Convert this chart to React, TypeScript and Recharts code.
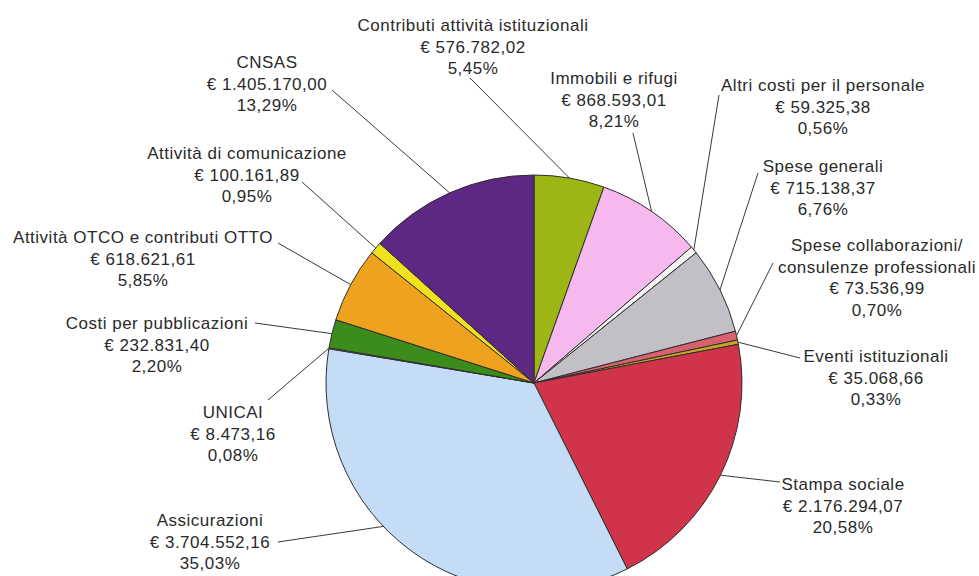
import React from 'react';
import { PieChart, Pie, Cell } from 'recharts';

// Voci di costo, in senso orario a partire dall'alto
const categories = [
  'Contributi attività istituzionali',
  'Immobili e rifugi',
  'Altri costi per il personale',
  'Spese generali',
  'Spese collaborazioni/\nconsulenze professionali',
  'Eventi istituzionali',
  'Stampa sociale',
  'Assicurazioni',
  'UNICAI',
  'Costi per pubblicazioni',
  'Attività OTCO e contributi OTTO',
  'Attività di comunicazione',
  'CNSAS',
];

const amounts = [
  576782.02, 868593.01, 59325.38, 715138.37, 73536.99, 35068.66, 2176294.07,
  3704552.16, 8473.16, 232831.4, 618621.61, 100161.89, 1405170.0,
];

const percents = [
  '5,45%', '8,21%', '0,56%', '6,76%', '0,70%', '0,33%', '20,58%',
  '35,03%', '0,08%', '2,20%', '5,85%', '0,95%', '13,29%',
];

const colors = [
  '#9db515', '#f5b9ee', '#f4f4f4', '#c3bfc6', '#d8606f', '#c9a526', '#d0344a',
  '#c4dcf6', '#e6e6e6', '#3c8c1c', '#eea21e', '#efe11e', '#5c2883',
];

// Etichette: centro testo (tx, ty prima riga), fine linea guida (lx, ly), spostamento angolare dell'attacco (shift)
const labelLayout = [
  { tx: 473, ty: 25, lx: 470, ly: 78, shift: 0 },
  { tx: 614, ty: 78, lx: 633, ly: 133, shift: 0 },
  { tx: 823, ty: 85, lx: 719, ly: 95, shift: 0 },
  { tx: 823, ty: 166, lx: 758, ly: 173, shift: 0 },
  { tx: 877, ty: 245, lx: 773, ly: 263, shift: 0 },
  { tx: 876, ty: 356, lx: 800, ly: 358, shift: 0 },
  { tx: 843, ty: 484, lx: 780, ly: 482, shift: 0 },
  { tx: 210, ty: 520, lx: 278, ly: 542, shift: -10 },
  { tx: 233, ty: 412, lx: 268, ly: 400, shift: 0 },
  { tx: 157, ty: 323, lx: 255, ly: 323, shift: 0 },
  { tx: 143, ty: 237, lx: 278, ly: 243, shift: 0 },
  { tx: 247, ty: 153, lx: 302, ly: 182, shift: 0 },
  { tx: 267, ty: 62, lx: 332, ly: 90, shift: 0 },
];

const data = categories.map((name, i) => ({ name, value: amounts[i] }));

const formatEuro = (v: number) => {
  const [int, dec] = v.toFixed(2).split('.');
  const grouped = int.replace(/\B(?=(\d{3})+(?!\d))/g, '.');
  return `€ ${grouped},${dec}`;
};

const RADIAN = Math.PI / 180;

const renderLabel = (props: any) => {
  const { cx, cy, midAngle, outerRadius, index } = props;
  const pos = labelLayout[index];
  const a = (midAngle + pos.shift) * RADIAN;
  const sx = cx + outerRadius * Math.cos(-a);
  const sy = cy + outerRadius * Math.sin(-a);
  const lines = [...categories[index].split('\n'), formatEuro(amounts[index]), percents[index]];
  return (
    <g key={`lbl-${index}`}>
      <line x1={sx} y1={sy} x2={pos.lx} y2={pos.ly} stroke="#3a3a3a" strokeWidth={1} />
      <text
        textAnchor="middle"
        fontFamily="'Liberation Sans', Arial, sans-serif"
        fontSize={17}
        letterSpacing={0.5}
        fill="#2a2a2a"
      >
        {lines.map((ln, k) => (
          <tspan key={k} x={pos.tx} y={pos.ty + 6 + k * 21.6}>
            {ln}
          </tspan>
        ))}
      </text>
    </g>
  );
};

export default function App() {
  return (
    <div style={{ position: 'absolute', top: 0, left: 0, background: '#fff' }}>
      <PieChart width={979} height={576}>
        <Pie
          data={data}
          dataKey="value"
          cx={529}
          cy={378}
          outerRadius={208}
          startAngle={90}
          endAngle={-270}
          stroke="#2e2e2e"
          strokeWidth={1}
          label={renderLabel}
          labelLine={false}
          isAnimationActive={false}
        >
          {data.map((d, i) => (
            <Cell key={d.name} fill={colors[i]} />
          ))}
        </Pie>
      </PieChart>
    </div>
  );
}
